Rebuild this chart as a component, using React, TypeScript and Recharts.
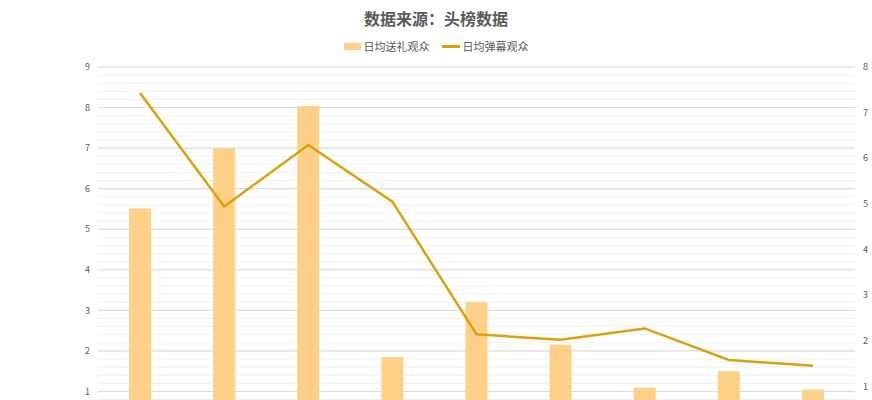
import { ComposedChart, Bar, Line, XAxis, YAxis, CartesianGrid } from 'recharts';

const categories = ['1', '2', '3', '4', '5', '6', '7', '8', '9'];
const giftViewers = [5.51, 6.99, 8.04, 1.85, 3.2, 2.15, 1.09, 1.5, 1.05];
const danmakuViewers = [7.43, 4.94, 6.29, 5.05, 2.14, 2.02, 2.27, 1.58, 1.45];
const leftTicks = [1, 2, 3, 4, 5, 6, 7, 8, 9];
const rightTicks = [1, 2, 3, 4, 5, 6, 7, 8];
const minorTicks = Array.from({ length: 46 }, (_, i) => i / 5);
const LEFT_MAX = 9;
const RIGHT_MAX = 8;

const BAR_COLOR = '#FFD088';
const LINE_COLOR = '#D9A20C';
const FONT = '"Noto Sans CJK SC", "Noto Sans", sans-serif';

const data = categories.map((name, i) => ({
  name,
  gift: giftViewers[i],
  danmaku: danmakuViewers[i],
}));

// faint minor grid lines every 0.2 on the left axis, placed inside the plot area
const minorLines = ({ offset }: any) =>
  minorTicks.map((t) => offset.top + offset.height * (1 - t / LEFT_MAX));

const App = () => {
  return (
    <div style={{ position: 'absolute', top: 0, left: 0, width: 872, height: 400, overflow: 'hidden', background: '#fff', fontFamily: FONT }}>
      <div style={{ position: 'absolute', top: 6, width: 872, textAlign: 'center', fontSize: 16, fontWeight: 'bold', color: '#595959' }}>
        数据来源：头榜数据
      </div>
      <div style={{ position: 'absolute', top: 38, width: 872, display: 'flex', justifyContent: 'center', alignItems: 'center', fontSize: 11, color: '#595959' }}>
        <span style={{ display: 'inline-block', width: 17, height: 7, background: BAR_COLOR, marginRight: 3 }} />
        <span style={{ marginRight: 12 }}>日均送礼观众</span>
        <span style={{ display: 'inline-block', width: 18, height: 3, background: LINE_COLOR, marginRight: 3 }} />
        <span>日均弹幕观众</span>
      </div>
      <ComposedChart width={872} height={470} data={data} margin={{ top: 67, right: 0, bottom: 38, left: 78 }}>
        <CartesianGrid
          yAxisId="left"
          vertical={false}
          stroke="#F0F0F0"
          horizontalCoordinatesGenerator={minorLines}
        />
        <CartesianGrid yAxisId="left" vertical={false} stroke="#D9D9D9" />
        <XAxis dataKey="name" hide />
        <YAxis
          yAxisId="left"
          width={20}
          domain={[0, LEFT_MAX]}
          ticks={leftTicks}
          axisLine={false}
          tickLine={false}
          tick={{ fontSize: 9, fill: '#595959' }}
        />
        <YAxis
          yAxisId="right"
          orientation="right"
          width={17}
          domain={[0, RIGHT_MAX]}
          ticks={rightTicks}
          axisLine={false}
          tickLine={false}
          tick={{ fontSize: 9, fill: '#595959' }}
        />
        <Bar yAxisId="left" dataKey="gift" name="日均送礼观众" fill={BAR_COLOR} barSize={22} isAnimationActive={false} />
        <Line
          yAxisId="right"
          dataKey="danmaku"
          name="日均弹幕观众"
          stroke={LINE_COLOR}
          strokeWidth={2.5}
          dot={false}
          type="linear"
          isAnimationActive={false}
        />
      </ComposedChart>
    </div>
  );
};

export default App;
